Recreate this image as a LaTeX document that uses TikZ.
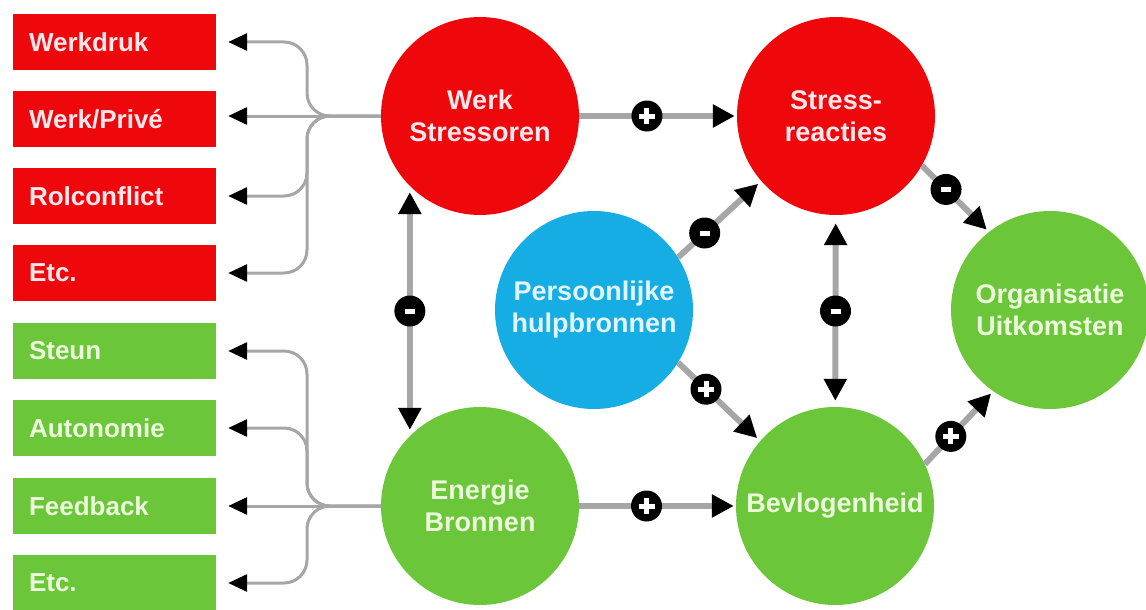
\documentclass[tikz,border=0pt]{standalone}
\usepackage{fontspec}
\setmainfont{Liberation Sans}
\usetikzlibrary{arrows.meta}
\definecolor{rd}{RGB}{238,8,12}
\definecolor{gn}{RGB}{108,198,58}
\definecolor{bl}{RGB}{22,172,228}
\definecolor{ln}{RGB}{166,166,166}
\definecolor{rtxt}{RGB}{255,232,236}
\definecolor{gtxt}{RGB}{236,250,220}
\definecolor{btxt}{RGB}{225,246,255}
\newcommand{\plussign}{\makebox[0pt]{\rule[-2.5pt]{16pt}{5pt}}\makebox[0pt]{\rule[-8pt]{5pt}{16pt}}}
\newcommand{\minussign}{\rule{10pt}{5pt}}
\begin{document}
\begin{tikzpicture}[x=1pt,y=-1pt,
  box/.style={rectangle, minimum width=203pt, minimum height=56pt, inner sep=0pt,
    text width=171pt, align=left, font=\bfseries\fontsize{26}{30}\selectfont},
  redbox/.style={box, fill=rd, text=rtxt},
  greenbox/.style={box, fill=gn, text=gtxt},
  circ/.style={circle, minimum size=198pt, inner sep=0pt, align=center,
    font=\bfseries\fontsize{27}{32}\selectfont},
  redc/.style={circ, fill=rd, text=rtxt},
  greenc/.style={circ, fill=gn, text=gtxt},
  bluec/.style={circ, fill=bl, text=btxt},
  badge/.style={circle, fill=black, minimum size=31pt, inner sep=0pt, text=white},
  main/.style={draw=ln, line width=6pt, -{Triangle[length=22pt,width=22pt,color=black]}},
  twoway/.style={draw=ln, line width=6pt, {Triangle[length=22pt,width=22pt,color=black]}-{Triangle[length=22pt,width=22pt,color=black]}},
  branch/.style={draw=ln, line width=3pt, rounded corners=23pt,
    {Triangle[length=19pt,width=17pt,color=black]}-, shorten <=12pt},
]
\useasboundingbox (0,0) rectangle (1146,610);

% left boxes
\node[redbox] (r1) at (114.5,42) {Werkdruk};
\node[redbox] (r2) at (114.5,119) {Werk/Privé};
\node[redbox] (r3) at (114.5,196) {Rolconflict};
\node[redbox] (r4) at (114.5,273) {Etc.};
\node[greenbox] (g1) at (114.5,351) {Steun};
\node[greenbox] (g2) at (114.5,428) {Autonomie};
\node[greenbox] (g3) at (114.5,506) {Feedback};
\node[greenbox] (g4) at (114.5,583) {Etc.};

% circles
\node[redc] (ws) at (480,116) {Werk\\Stressoren};
\node[redc] (sr) at (836,116) {Stress-\\reacties};
\node[bluec] (pb) at (594,310) {Persoonlijke\\hulpbronnen};
\node[greenc] (eb) at (480,506) {Energie\\Bronnen};
\node[greenc] (bv) at (835,506) {Bevlogenheid};
\node[greenc] (ou) at (1050,310) {Organisatie\\Uitkomsten};

\coordinate (jx) at (307,0);

% branches red
\draw[branch] (r1.east) -- (r1.east -| jx) -- (jx |- ws) -- (ws);
\draw[branch] (r2.east |- ws) -- (ws);
\draw[branch] (r3.east) -- (r3.east -| jx) -- (jx |- ws) -- (ws);
\draw[branch] (r4.east) -- (r4.east -| jx) -- (jx |- ws) -- (ws);
% branches green
\draw[branch] (g1.east) -- (g1.east -| jx) -- (jx |- eb) -- (eb);
\draw[branch] (g2.east) -- (g2.east -| jx) -- (jx |- eb) -- (eb);
\draw[branch] (g3.east |- eb) -- (eb);
\draw[branch] (g4.east) -- (g4.east -| jx) -- (jx |- eb) -- (eb);

% main arrows
\draw[main, shorten >=2pt] (ws) -- node[badge, pos=0.43] {\plussign} (sr);
\draw[main, shorten >=2pt] (eb) -- node[badge, pos=0.43] {\plussign} (bv);
\draw[twoway, shorten <=6pt, shorten >=6pt] (ws.south west) -- node[badge, pos=0.5] {\minussign} (eb.north west);
\draw[twoway, shorten <=8pt, shorten >=6pt] (sr) -- node[badge, pos=0.5] {\minussign} (bv);
\draw[main, shorten >=4pt] (pb.32) -- node[badge, pos=0.32] {\minussign} (sr.221);
\draw[main, shorten >=4pt] (pb.-32) -- node[badge, pos=0.34] {\plussign} (bv.139);
\draw[main, shorten >=3pt] (sr.-30) -- node[badge, pos=0.36] {\minussign} (ou.128);
\draw[main, shorten >=3pt] (bv.25) -- node[badge, pos=0.38] {\plussign} (ou.235);
\end{tikzpicture}
\end{document}
